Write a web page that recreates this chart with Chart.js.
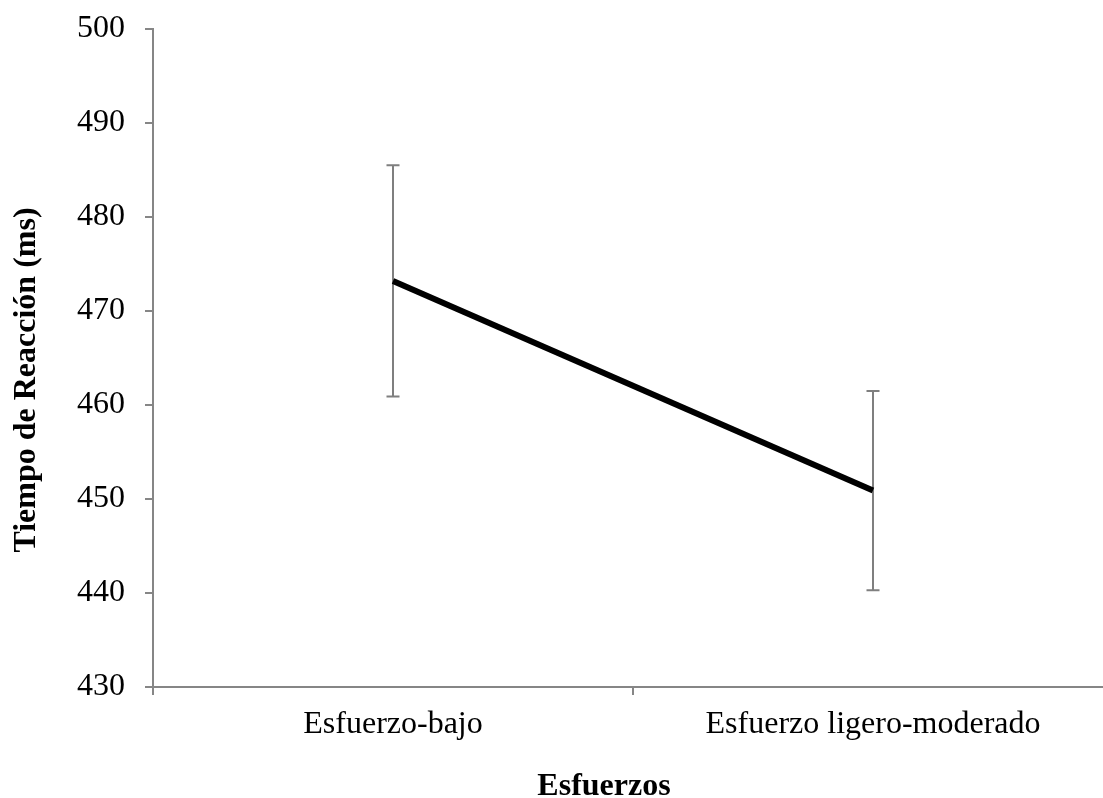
<!DOCTYPE html>
<html>
<head>
<meta charset="utf-8">
<script src="https://cdn.jsdelivr.net/npm/chart.js@4/dist/chart.umd.min.js"></script>
<style>
  html, body { margin: 0; padding: 0; background: #fff; overflow: hidden; }
  #wrap { position: relative; width: 1115px; height: 798px; }
</style>
</head>
<body>
<div id="wrap"><canvas id="rtChart"></canvas></div>
<script>
// Reaction time by effort level, mean with error bars.
const categories = ['Esfuerzo-bajo', 'Esfuerzo ligero-moderado'];
const meanRT = [473.2, 450.9];
const errRT = [12.3, 10.6];
const yTicks = [430, 440, 450, 460, 470, 480, 490, 500];

const AXIS_GREY = '#868686';
const BAR_GREY = '#7f7f7f';
const SERIF = '"Liberation Serif", "Times New Roman", serif';

// error bars go under the line
const errorBars = {
  id: 'errorBars',
  beforeDatasetsDraw(chart) {
    const { ctx, scales: { x, y } } = chart;
    ctx.save();
    ctx.strokeStyle = BAR_GREY;
    ctx.lineWidth = 2;
    meanRT.forEach((m, i) => {
      const px = x.getPixelForValue(i);
      const top = y.getPixelForValue(m + errRT[i]);
      const bot = y.getPixelForValue(m - errRT[i]);
      ctx.beginPath();
      ctx.moveTo(px, top); ctx.lineTo(px, bot);
      ctx.moveTo(px - 6.5, top); ctx.lineTo(px + 6.5, top);
      ctx.moveTo(px - 6.5, bot); ctx.lineTo(px + 6.5, bot);
      ctx.stroke();
    });
    ctx.restore();
  }
};

// axis titles placed like the original figure
const axisTitles = {
  id: 'axisTitles',
  afterDraw(chart) {
    const { ctx } = chart;
    ctx.save();
    ctx.fillStyle = '#000';
    ctx.font = 'bold 32px ' + SERIF;
    ctx.textAlign = 'center';
    ctx.textBaseline = 'alphabetic';
    ctx.fillText('Esfuerzos', 604, 795);
    ctx.textBaseline = 'middle';
    ctx.translate(27, 380);
    ctx.rotate(-Math.PI / 2);
    ctx.fillText('Tiempo de Reacción (ms)', 0, 0);
    ctx.restore();
  }
};

new Chart(document.getElementById('rtChart'), {
  type: 'line',
  data: {
    labels: categories,
    datasets: [{
      data: meanRT,
      borderColor: '#000',
      borderWidth: 6,
      pointRadius: 0,
      fill: false,
      tension: 0
    }]
  },
  options: {
    responsive: true,
    maintainAspectRatio: false,
    animation: false,
    layout: { padding: { top: 29, left: 0, right: 2, bottom: 0 } },
    plugins: { legend: { display: false }, tooltip: { enabled: false } },
    scales: {
      x: {
        type: 'category',
        offset: true,
        grid: { offset: true, drawOnChartArea: false, drawTicks: true, tickLength: 8, color: AXIS_GREY, lineWidth: 2 },
        border: { display: true, color: AXIS_GREY, width: 2 },
        ticks: { color: '#000', font: { family: SERIF, size: 32 }, padding: 10, maxRotation: 0 },
        afterFit: s => { s.height = 111; s.paddingLeft = 0; s.paddingRight = 0; }
      },
      y: {
        min: 430, max: 500,
        afterBuildTicks: s => { s.ticks = yTicks.map(v => ({ value: v })); },
        grid: { drawOnChartArea: false, drawTicks: true, tickLength: 8, color: AXIS_GREY, lineWidth: 2 },
        border: { display: true, color: AXIS_GREY, width: 2 },
        ticks: { color: '#000', font: { family: SERIF, size: 32 }, padding: 20 },
        afterFit: s => { s.width = 153; s.paddingTop = 0; s.paddingBottom = 0; }
      }
    }
  },
  plugins: [errorBars, axisTitles]
});
</script>
</body>
</html>
